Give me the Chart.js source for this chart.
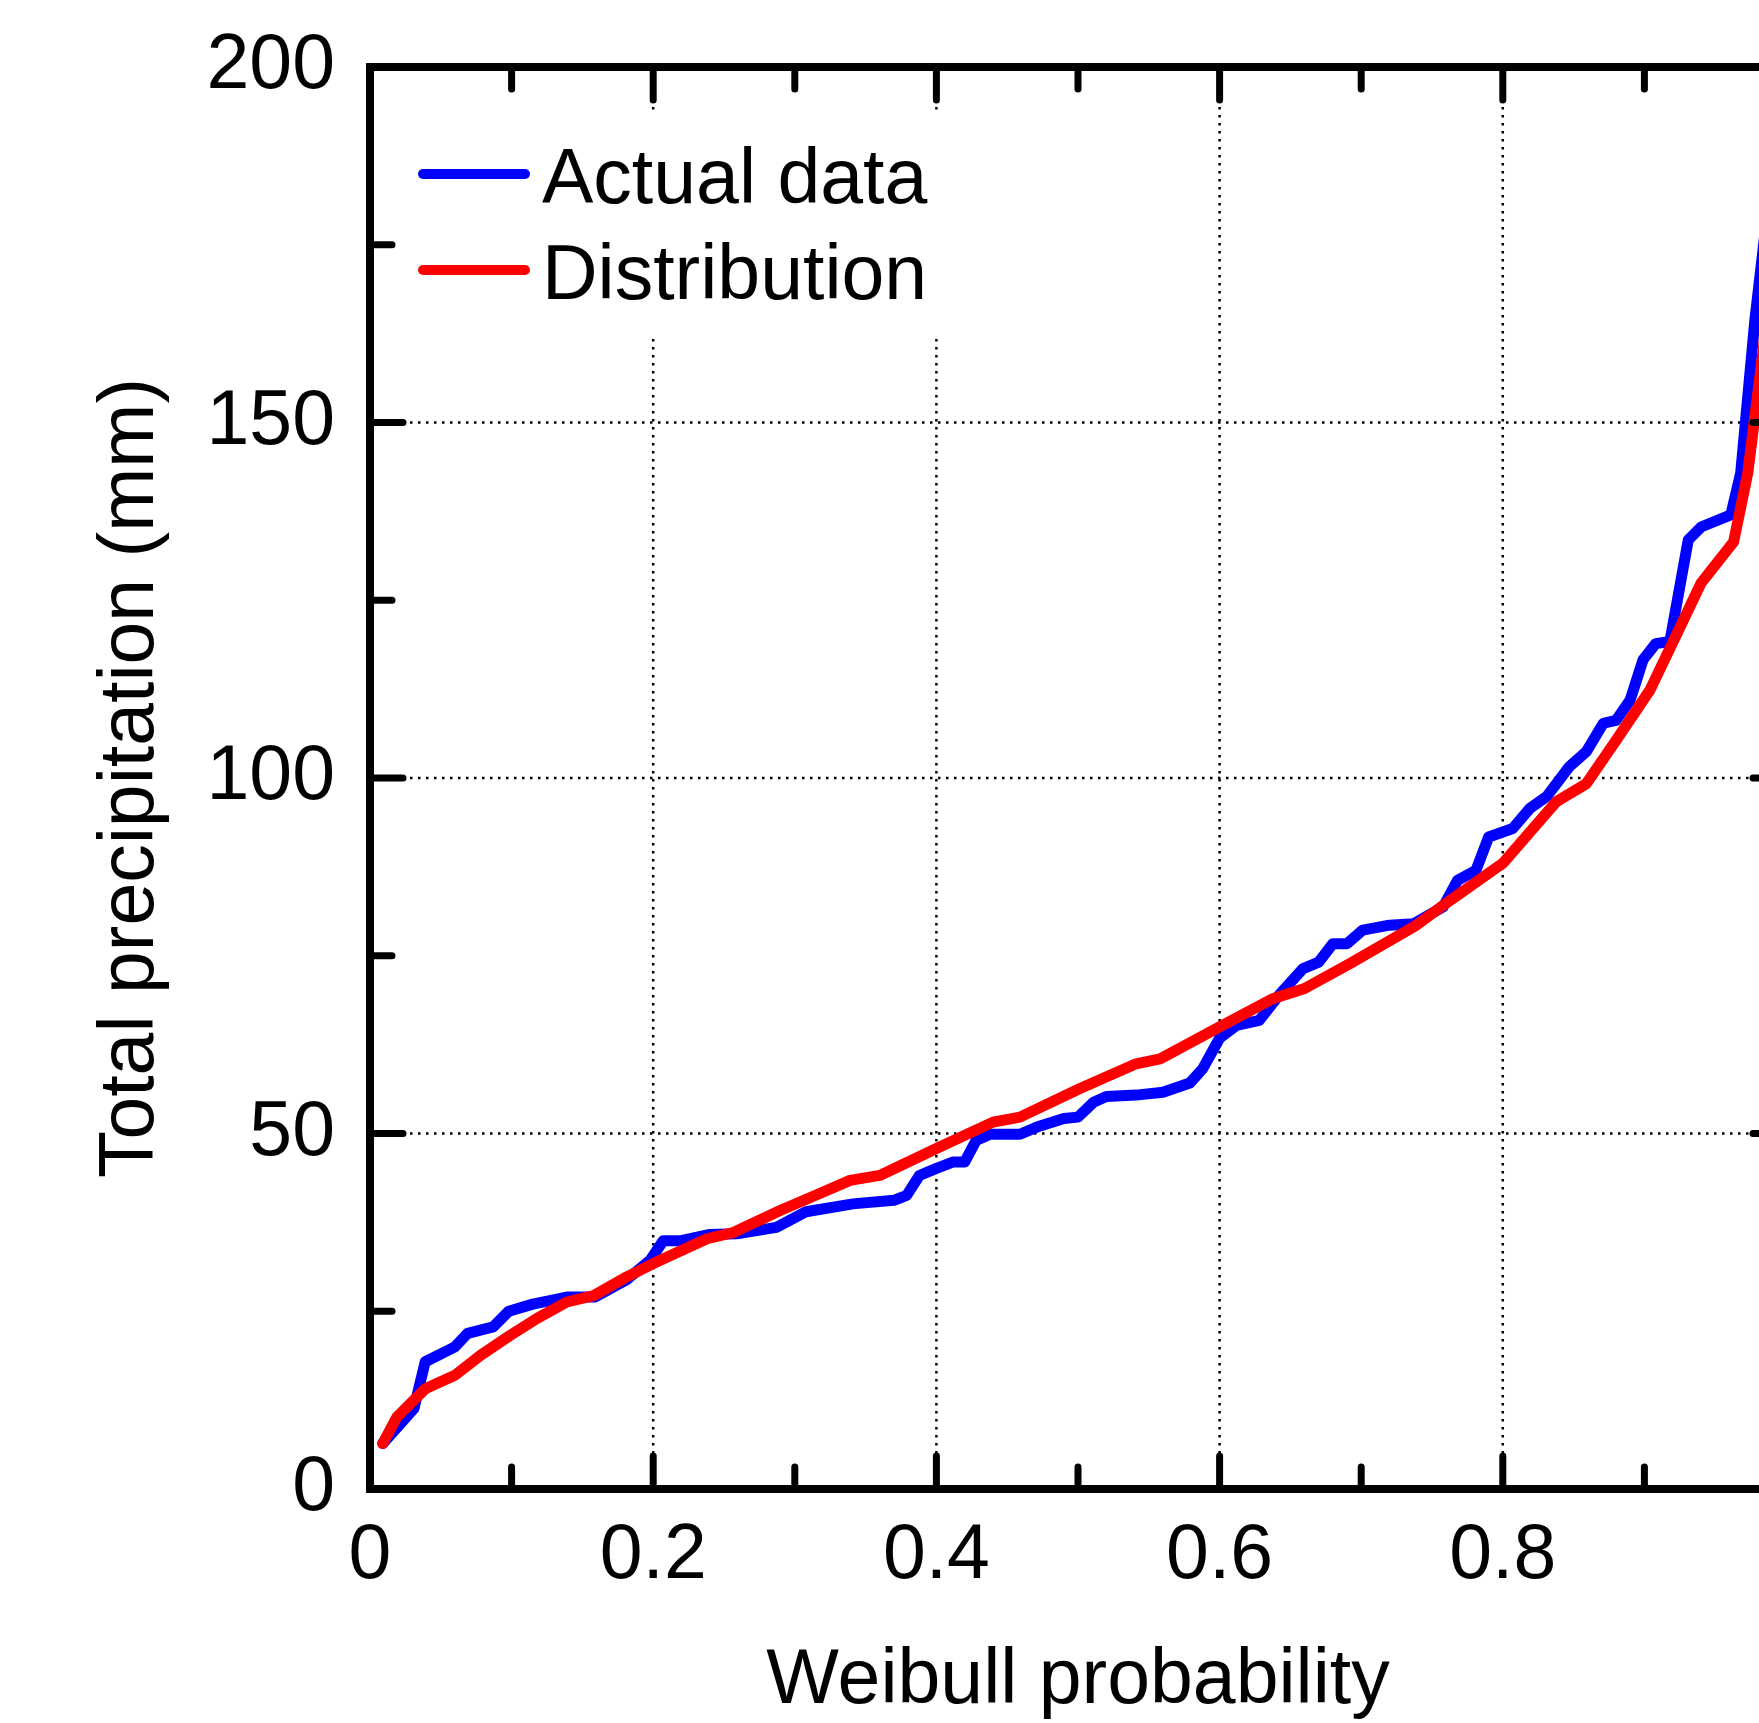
<!DOCTYPE html>
<html>
<head>
<meta charset="utf-8">
<title>Weibull probability</title>
<script src="https://cdn.jsdelivr.net/npm/chart.js@4.4.1/dist/chart.umd.min.js"></script>
<style>
  html, body { margin: 0; padding: 0; background: #fff; overflow: hidden; }
  #wrap { width: 1836px; height: 1723px; }
</style>
</head>
<body>
<div id="wrap"><canvas id="probChart" width="1836" height="1723"></canvas></div>
<script>
const actualProb = [0.009, 0.031, 0.039, 0.060, 0.069, 0.087, 0.098, 0.115, 0.139, 0.159,
  0.181, 0.198, 0.207, 0.219, 0.240, 0.259, 0.287, 0.308, 0.341, 0.370,
  0.379, 0.388, 0.400, 0.412, 0.420, 0.428, 0.438, 0.459, 0.471, 0.490,
  0.500, 0.511, 0.520, 0.541, 0.560, 0.579, 0.588, 0.600, 0.612, 0.628,
  0.643, 0.659, 0.670, 0.680, 0.690, 0.701, 0.720, 0.737, 0.758, 0.768,
  0.781, 0.790, 0.807, 0.819, 0.831, 0.847, 0.859, 0.871, 0.880, 0.890,
  0.899, 0.908, 0.918, 0.931, 0.940, 0.961, 0.968, 0.978, 0.990];
const actualMm = [6.4, 11.3, 17.9, 20.0, 21.9, 22.8, 25.0, 26.0, 27.0, 27.0,
  29.4, 32.2, 34.9, 34.9, 35.8, 35.9, 36.8, 39.0, 40.1, 40.6,
  41.3, 44.1, 45.1, 46.0, 46.0, 49.0, 49.9, 49.9, 50.9, 52.1,
  52.3, 54.4, 55.2, 55.4, 55.8, 57.1, 59.1, 63.4, 65.2, 65.9,
  69.7, 73.2, 74.1, 76.7, 76.7, 78.6, 79.3, 79.5, 81.9, 85.6,
  87.0, 91.7, 92.9, 95.7, 97.4, 101.6, 103.7, 107.7, 108.1, 111.0,
  116.6, 118.9, 119.2, 133.5, 135.3, 137.0, 142.9, 164.4, 185.0];

// fitted distribution
const distProb = [0.009, 0.019, 0.039, 0.060, 0.078, 0.099, 0.118, 0.139, 0.158, 0.181,
  0.200, 0.238, 0.257, 0.290, 0.318, 0.339, 0.360, 0.400, 0.440, 0.459,
  0.501, 0.541, 0.558, 0.600, 0.638, 0.660, 0.692, 0.739, 0.760, 0.800,
  0.838, 0.859, 0.880, 0.904, 0.923, 0.940, 0.963, 0.973, 0.985, 0.991];
const distMm = [6.4, 10.1, 14.1, 16.0, 18.8, 21.6, 24.0, 26.3, 27.2, 29.8,
  31.7, 35.2, 36.1, 39.2, 41.6, 43.4, 44.1, 47.9, 51.6, 52.3,
  56.3, 59.8, 60.5, 65.0, 69.0, 70.4, 73.9, 79.3, 82.4, 88.0,
  96.7, 99.2, 105.3, 112.4, 120.3, 127.4, 133.2, 142.9, 162.0, 175.0];

const xTicks = [0, 0.2, 0.4, 0.6, 0.8, 1];
const xMinor = [0.1, 0.3, 0.5, 0.7, 0.9];
const yTicks = [0, 50, 100, 150, 200];
const yMinor = [25, 75, 125, 175];

const FONT = 'Liberation Sans, Arial, Helvetica, sans-serif';
Chart.defaults.font.family = FONT;
Chart.defaults.color = '#000';

// frame, inward ticks, dotted grid and the boxed legend (gnuplot look)
const plotDecor = {
  id: 'plotDecor',
  beforeDatasetsDraw(chart) {
    const { ctx, chartArea: a, scales: { x, y } } = chart;
    ctx.save();
    ctx.strokeStyle = '#000';
    ctx.lineWidth = 2.5;
    ctx.setLineDash([2.5, 5.5]);
    xTicks.slice(1, -1).forEach(v => {
      const px = x.getPixelForValue(v);
      ctx.beginPath(); ctx.moveTo(px, a.top); ctx.lineTo(px, a.bottom); ctx.stroke();
    });
    yTicks.slice(1, -1).forEach(v => {
      const py = y.getPixelForValue(v);
      ctx.beginPath(); ctx.moveTo(a.left, py); ctx.lineTo(a.right, py); ctx.stroke();
    });
    ctx.restore();

    // legend background hides the grid behind it
    ctx.save();
    ctx.fillStyle = '#fff';
    ctx.fillRect(a.left + 8, a.top + 45, 570, 225);
    ctx.restore();

    // legend entries
    ctx.save();
    ctx.font = '77px ' + FONT;
    ctx.textBaseline = 'alphabetic';
    ctx.lineCap = 'round';
    ctx.lineWidth = 10;
    chart.data.datasets.forEach((ds, i) => {
      const ly = a.top + 107 + i * 96;
      ctx.strokeStyle = ds.borderColor;
      ctx.beginPath(); ctx.moveTo(a.left + 53, ly); ctx.lineTo(a.left + 155, ly); ctx.stroke();
      ctx.fillStyle = '#000';
      ctx.fillText(ds.label, a.left + 172, ly + 29);
    });
    ctx.restore();
  },
  afterDatasetsDraw(chart) {
    const { ctx, chartArea: a, scales: { x, y } } = chart;
    ctx.save();
    ctx.strokeStyle = '#000';
    ctx.lineCap = 'round';
    ctx.lineWidth = 7;
    const tick = (v, len, horiz) => {
      if (horiz) {
        const px = x.getPixelForValue(v);
        ctx.beginPath(); ctx.moveTo(px, a.bottom); ctx.lineTo(px, a.bottom - len); ctx.stroke();
        ctx.beginPath(); ctx.moveTo(px, a.top); ctx.lineTo(px, a.top + len); ctx.stroke();
      } else {
        const py = y.getPixelForValue(v);
        ctx.beginPath(); ctx.moveTo(a.left, py); ctx.lineTo(a.left + len, py); ctx.stroke();
        ctx.beginPath(); ctx.moveTo(a.right, py); ctx.lineTo(a.right - len, py); ctx.stroke();
      }
    };
    xTicks.forEach(v => tick(v, 33, true));
    xMinor.forEach(v => tick(v, 22, true));
    yTicks.forEach(v => tick(v, 33, false));
    yMinor.forEach(v => tick(v, 22, false));

    ctx.lineCap = 'square';
    ctx.lineWidth = 8;
    ctx.strokeRect(a.left, a.top, a.right - a.left, a.bottom - a.top);
    ctx.restore();
  }
};

const ctx = document.getElementById('probChart').getContext('2d');
const probChart = new Chart(ctx, {
  type: 'line',
  data: {
    datasets: [
      {
        label: 'Actual data',
        data: actualProb.map((p, i) => ({ x: p, y: actualMm[i] })),
        borderColor: '#0000ff',
        borderWidth: 11,
        pointRadius: 0,
        tension: 0,
        borderJoinStyle: 'round',
        borderCapStyle: 'round',
        fill: false,
        order: 1
      },
      {
        label: 'Distribution',
        data: distProb.map((p, i) => ({ x: p, y: distMm[i] })),
        borderColor: '#ff0000',
        borderWidth: 11,
        pointRadius: 0,
        tension: 0,
        borderJoinStyle: 'round',
        borderCapStyle: 'round',
        fill: false,
        order: 0
      }
    ]
  },
  options: {
    responsive: false,
    animation: false,
    layout: { padding: { top: 67, right: 50, left: 0, bottom: 0 } },
    plugins: {
      legend: { display: false },
      tooltip: { enabled: false }
    },
    scales: {
      x: {
        type: 'linear',
        min: 0,
        max: 1,
        afterBuildTicks: s => { s.ticks = xTicks.map(v => ({ value: v })); },
        afterFit: s => { s.height = 234; },
        grid: { display: false, drawTicks: false, tickLength: 0 },
        border: { display: false },
        ticks: {
          font: { size: 77 },
          padding: 22,
          maxRotation: 0,
          autoSkip: false,
          callback: v => String(v)
        },
        title: {
          display: true,
          text: 'Weibull probability',
          font: { size: 77, lineHeight: 1 },
          padding: { top: 0, bottom: 3 }
        }
      },
      y: {
        type: 'linear',
        min: 0,
        max: 200,
        afterBuildTicks: s => { s.ticks = yTicks.map(v => ({ value: v })); },
        afterFit: s => { s.width = 370; s.paddingTop = 0; s.paddingBottom = 0; },
        grid: { display: false, drawTicks: false, tickLength: 0 },
        border: { display: false },
        ticks: {
          font: { size: 77 },
          padding: 35,
          autoSkip: false,
          callback: v => String(v)
        },
        title: {
          display: true,
          text: 'Total precipitation (mm)',
          font: { size: 77, lineHeight: 1 },
          padding: { top: 93, bottom: 0 }
        }
      }
    }
  },
  plugins: [plotDecor]
});
</script>
</body>
</html>
